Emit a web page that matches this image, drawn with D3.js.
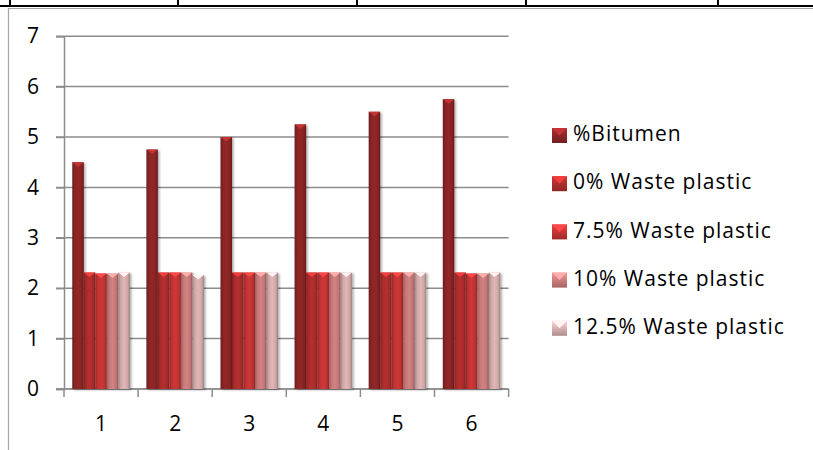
<!DOCTYPE html>
<html><head><meta charset="utf-8">
<script src="https://cdn.jsdelivr.net/npm/d3@7"></script>
<style>
html,body{margin:0;padding:0;background:#fff;}
svg{display:block;}
text{font-family:"Open Sans","DejaVu Sans",sans-serif;fill:#000;}
</style></head>
<body>
<svg id="chart" width="813" height="450"></svg>
<script>
const categories = ["1","2","3","4","5","6"];
const seriesNames = ["%Bitumen","0% Waste plastic","7.5% Waste plastic","10% Waste plastic","12.5% Waste plastic"];
const bitumen = [4.5,4.75,5,5.25,5.5,5.75];
const wp0 = [2.31,2.31,2.31,2.31,2.31,2.31];
const wp75 = [2.29,2.31,2.31,2.31,2.31,2.29];
const wp10 = [2.29,2.31,2.31,2.31,2.31,2.29];
const wp125 = [2.31,2.26,2.31,2.31,2.31,2.31];
const yTicks = [0,1,2,3,4,5,6,7];

const seriesValues = [bitumen, wp0, wp75, wp10, wp125];
const baseColors = ["#8e2626","#b02d2d","#c83535","#cd7d7d","#d9b0b0"];

const svg = d3.select("#chart");
const defs = svg.append("defs");

// page decoration: table line & chart border
svg.append("line").attr("x1",0).attr("x2",813).attr("y1",6).attr("y2",6).attr("stroke","#000").attr("stroke-width",2);
[10,178,357,526,718].forEach(x=>{
  svg.append("line").attr("x1",x).attr("x2",x).attr("y1",0).attr("y2",6).attr("stroke","#000").attr("stroke-width",2);
});
svg.append("path").attr("d","M8.5,450 L8.5,8.5 L813,8.5").attr("fill","none").attr("stroke","#a6a6a6").attr("stroke-width",1.2);

const x = d3.scaleBand().domain(categories).range([64,508.6]).paddingInner(0).paddingOuter(0);
const xs = d3.scaleBand().domain(seriesNames).range([0,x.bandwidth()]).paddingInner(0).paddingOuter(0.72);
const y = d3.scaleLinear().domain([0,7]).range([389,36.2]);

// gradients
baseColors.forEach((c,i)=>{
  const g = defs.append("linearGradient").attr("id","g"+i).attr("x1","0").attr("x2","1").attr("y1","0").attr("y2","0");
  const cc = d3.color(c);
  g.append("stop").attr("offset","0").attr("stop-color",cc.darker(0.8));
  g.append("stop").attr("offset","0.2").attr("stop-color",cc.darker(0.15));
  g.append("stop").attr("offset","0.5").attr("stop-color",cc.brighter(0.1));
  g.append("stop").attr("offset","0.8").attr("stop-color",cc.darker(0.15));
  g.append("stop").attr("offset","1").attr("stop-color",cc.darker(0.9));
  const lg = defs.append("linearGradient").attr("id","l"+i).attr("x1","0").attr("x2","0").attr("y1","0").attr("y2","1");
  lg.append("stop").attr("offset","0").attr("stop-color",cc.brighter(0.5));
  lg.append("stop").attr("offset","1").attr("stop-color",cc.darker(0.6));
});
const flt = defs.append("filter").attr("id","shadow").attr("x","-20%").attr("y","-5%").attr("width","160%").attr("height","115%");
flt.append("feDropShadow").attr("dx",1.5).attr("dy",1).attr("stdDeviation",1.2).attr("flood-color","#000").attr("flood-opacity",0.35);

// gridlines
svg.append("g").selectAll("line").data(yTicks).join("line")
  .attr("x1",56).attr("x2",508.6).attr("y1",d=>y(d)).attr("y2",d=>y(d))
  .attr("stroke","#8c8c8c").attr("stroke-width",1.5);

// y axis
const yAxis = d3.axisLeft(y).tickValues(yTicks).tickSize(8).tickPadding(17).tickFormat(d3.format("d"));
const gy = svg.append("g").attr("transform","translate(64,0)").call(yAxis);
gy.select(".domain").attr("stroke","#8c8c8c").attr("stroke-width",1.5);
gy.selectAll(".tick line").attr("stroke","#8c8c8c").attr("stroke-width",1.5);
gy.selectAll("text").attr("font-size",21).attr("font-family","'Open Sans',sans-serif").attr("fill","#000");

// x axis with ticks at category boundaries
const gx = svg.append("g").attr("transform","translate(0,389)");
gx.append("line").attr("x1",56).attr("x2",508.6).attr("y1",0).attr("y2",0).attr("stroke","#8c8c8c").attr("stroke-width",1.5);
const bounds = categories.map(c=>x(c)).concat([x(categories[categories.length-1])+x.bandwidth()]);
gx.selectAll("line.tk").data(bounds).join("line").attr("class","tk")
  .attr("x1",d=>d).attr("x2",d=>d).attr("y1",0).attr("y2",8).attr("stroke","#8c8c8c").attr("stroke-width",1.5);
gx.selectAll("text").data(categories).join("text")
  .attr("x",d=>x(d)+x.bandwidth()/2).attr("y",36).attr("text-anchor","middle")
  .attr("dominant-baseline","middle").attr("font-size",21).text(d=>d);

// bars
const barData = [];
categories.forEach((c,ci)=>{
  seriesNames.forEach((s,si)=>{
    barData.push({c, s, si, v: seriesValues[si][ci]});
  });
});
const gb = svg.append("g");
const bars = gb.selectAll("g.bar").data(barData).join("g").attr("class","bar");
bars.append("rect")
  .attr("x",d=>x(d.c)+xs(d.s)).attr("width",xs.bandwidth())
  .attr("y",d=>y(d.v)).attr("height",d=>y(0)-y(d.v))
  .attr("fill",d=>"url(#g"+d.si+")").attr("filter","url(#shadow)");
bars.append("path")
  .attr("d",d=>{
    const x0 = x(d.c)+xs(d.s), w = xs.bandwidth(), t = y(d.v);
    return `M${x0},${t} L${x0+w},${t} L${x0+w/2},${t+4.5} Z`;
  })
  .attr("fill",d=>d3.color(baseColors[d.si]).brighter(0.9));

// legend
const lg = svg.append("g");
const rows = lg.selectAll("g").data(seriesNames).join("g")
  .attr("transform",(d,i)=>`translate(552,${135.5+i*48.2})`);
rows.append("rect").attr("x",0).attr("y",-7.5).attr("width",15).attr("height",15)
  .attr("fill",(d,i)=>"url(#l"+i+")");
rows.append("path").attr("d","M0,-7.5 L15,-7.5 L7.5,0 Z").attr("fill",(d,i)=>d3.color(baseColors[i]).brighter(0.9));
rows.append("text").attr("x",21).attr("y",0).attr("dominant-baseline","middle")
  .attr("font-size",21).attr("letter-spacing",1).text(d=>d);
</script>
</body></html>
